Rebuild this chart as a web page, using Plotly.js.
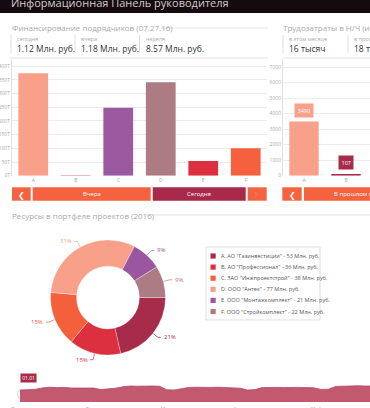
<!DOCTYPE html>
<html><head><meta charset="utf-8">
<script src="https://cdn.plot.ly/plotly-3.0.1.min.js"></script>
<style>html,body{margin:0;padding:0;background:#fff;overflow:hidden}#c{width:370px;height:408px}</style>
</head><body><div id="c"></div><script>
const W=370,H=408;
// ---- data ----
const finCats=['A','B','C','D','E','F'];
const finVals=[374,2,248,341,54,100];
const finColors=['#f8a08a','#c0506e','#9b59a0','#ad7b84','#dc2f3f','#f5603f'];
const finTicks=[0,50,100,150,200,250,300,350,400];
const finTickText=['0T','50T','100T','150T','200T','250T','300T','350T','400T'];
const labCats=['A','B'];
const labVals=[3490,107];
const labColors=['#f8a08a','#a72b4a'];
const labTicks=[0,1000,2000,3000,4000,5000,6000,7000];
const pieLetters=['A','B','C','D','E','F'];
const pieNames=['АО "Газинвестиции"','АО "Профессионал"','ЗАО "Инжпроектстрой"','ООО "Антек"','ООО "Монтажкомплект"','ООО "Стройкомплект"'];
const pieVals=[53,36,38,77,21,22];
const pieColors=['#a72b4a','#dc2f3f','#f4603c','#f8a08a','#9a56a0','#ad7b84'];
const tlDays=[0,3,6,9,12,15,18,21,24,27,30,33,36,39,42,45,48,51,54,57,60,63,66,69,72,75,78,81,84,87,90,93,96,99,102,105,108,111,114,117,120,123,126,129,132,135,138,141,143];
const tlVals=[60,61,63,70,74,72,73,70,71,69,70,62,64,69,76,80,79,81,80,79,61,60,66,73,74,72,73,74,72,68,69,60,62,72,74,73,72,74,73,72,71,63,64,78,80,79,81,80,80];
const monthDays=[0,31,60,91,121];
const monthNames=['Январь','Февраль','Март','Апрель','Май'];
const finKpiLabels=['сегодня','вчера','неделя'];
const finKpiValues=['1.12 Млн. руб.','1.18 Млн. руб.','8.57 Млн. руб.'];
const labKpiLabels=['в этом месяце','в прошлом месяце'];
const labKpiValues=['16 тысяч','18 тысяч'];

// ---- helpers ----
const X=x=>x/W, Y=y=>1-y/H;
const shapes=[], anns=[];
function rect(x0,y0,x1,y1,fill,lc,lw){shapes.push({type:'rect',xref:'paper',yref:'paper',x0:X(x0),x1:X(x1),y0:Y(y1),y1:Y(y0),fillcolor:fill,line:{color:lc||fill,width:lw||0},layer:'below'});}
function line(x0,y0,x1,y1,c,w){shapes.push({type:'line',xref:'paper',yref:'paper',x0:X(x0),x1:X(x1),y0:Y(y0),y1:Y(y1),line:{color:c,width:w||1}});}
function txt(t,x,y,size,color,xa,extra){anns.push(Object.assign({text:t,xref:'paper',yref:'paper',x:X(x),y:Y(y),xanchor:xa||'left',yanchor:'middle',showarrow:false,font:{size:size,color:color}},extra||{}));}

// header
rect(0,0,W,13,'#150a0e');
txt('Информационная Панель руководителя',9,2.5,11,'#cfcfcf');
// section 1
txt('Финансирование подрядчиков (07.27.16)',10,28,8,'#aaaaaa');
line(161,28,268,28,'#e3e3e3');
txt('Трудозатраты в Н/Ч (июль 2016)',281,28,8,'#aaaaaa');
const finKpiX=[11,75,139.5];
finKpiX.forEach((x,i)=>{line(x,35,x,53,'#dddddd');txt(finKpiLabels[i],x+4,39.5,5.5,'#aaaaaa');txt(finKpiValues[i],x+4,48.5,8.5,'#333333');});
const labKpiX=[283,348];
labKpiX.forEach((x,i)=>{line(x,35,x,53,'#dddddd');txt(labKpiLabels[i],x+4,39.5,5.5,'#aaaaaa');txt(labKpiValues[i],x+4,48.5,8.5,'#333333');});
line(10,58,268,58,'#e3e3e3');line(283,58,370,58,'#e3e3e3');
// buttons
rect(12,187.3,30.7,200.7,'#f5623f');txt('❮',21.3,194,8,'#ffffff','center');
rect(32.7,187.3,150.7,200.7,'#f5623f');txt('Вчера',91.7,194,6,'#ffffff','center');
rect(152.7,187.3,245.7,200.7,'#a8294a');txt('Сегодня',199.2,194,6,'#ffffff','center');
rect(247.7,187.3,266.7,200.7,'#f5623f');txt('〉',257.2,194,7,'#f8b09c','center');
rect(282.3,187.3,301.7,200.7,'#f5623f');txt('❮',292,194,8,'#ffffff','center');
rect(304,187.3,420,200.7,'#f5623f');txt('В прошлом месяце',362,194,6,'#ffffff','center');
// section 2
txt('Ресурсы в портфеле проектов (2016)',10,215,8,'#aaaaaa');
line(145,215,370,215,'#e3e3e3');
// legend
rect(206,247,320,320,'#ffffff','#dddddd',1);
pieLetters.forEach((l,i)=>{
  const yy=256+11.1*i;
  rect(210.5,yy-2.6,215.7,yy+2.6,pieColors[i]);
  txt(l+'. '+pieNames[i]+' - '+pieVals[i]+' Млн. руб.',218.5,yy,5.5,'#555555');
});
// pie labels with leaders
const total=pieVals.reduce((a,b)=>a+b,0);
const cx=108,cy=297.5,R=57.5;
let cum=0;
pieVals.forEach((v,i)=>{
  const mid=(cum+v/2)/total*2*Math.PI; cum+=v;
  const c=Math.cos(mid), s=Math.sin(mid);
  const ex=cx+(R+0.5)*c, ey=cy+(R+0.5)*s, bx=cx+64*c, by=cy+64*s;
  const right=c>=0, tx=bx+(right?3:-3);
  shapes.push({type:'path',xref:'paper',yref:'paper',path:`M ${X(ex)},${Y(ey)} L ${X(bx)},${Y(by)} L ${X(tx)},${Y(by)}`,line:{color:pieColors[i],width:0.7}});
  txt(Math.round(v/total*100)+'%',tx+(right?0.5:-0.5),by,6,pieColors[i],right?'left':'right');
});
// timeline
txt('〈',15,393,11,'#9a9a9a','center');
txt('01.01',20,378,5,'#ffffff','left',{bgcolor:'#a72b4a',borderpad:1.2});

const data=[
 {type:'bar',x:finCats,y:finVals,marker:{color:finColors},xaxis:'x',yaxis:'y',hoverinfo:'none'},
 {type:'bar',x:labCats,y:labVals,marker:{color:labColors},xaxis:'x2',yaxis:'y2',hoverinfo:'none'},
 {type:'scatter',mode:'lines',x:tlDays,y:tlVals,fill:'tozeroy',fillcolor:'#c2596f',line:{color:'#b44a64',width:0.8},xaxis:'x3',yaxis:'y3',hoverinfo:'none'},
 {type:'pie',values:pieVals,labels:pieLetters,marker:{colors:pieColors,line:{color:'#ffffff',width:0.3}},hole:0.545,sort:false,direction:'clockwise',rotation:90,textinfo:'none',hoverinfo:'none',showlegend:false,
  domain:{x:[X(50.5),X(165.5)],y:[Y(355),Y(240)]}}
];
labVals.forEach((v,i)=>anns.push({xref:'x2',yref:'y2',x:labCats[i],y:v,yanchor:'bottom',yshift:4,showarrow:false,text:String(v),font:{size:5.5,color:'#ffffff'},bgcolor:labColors[i],borderpad:2.5}));

const tickFont={size:5,color:'#aaaaaa'};
const layout={
 width:W,height:H,margin:{l:0,r:0,t:0,b:0},paper_bgcolor:'#ffffff',plot_bgcolor:'rgba(0,0,0,0)',
 font:{family:'Open Sans, sans-serif'},showlegend:false,bargap:0.3,
 xaxis:{domain:[X(12),X(267)],range:[-0.5,5.5],type:'category',tickfont:tickFont,showgrid:false,showline:false,ticks:'',automargin:false,fixedrange:true},
 yaxis:{domain:[Y(175.7),Y(59)],range:[0,426],tickvals:finTicks,ticktext:finTickText,tickfont:tickFont,showgrid:true,gridcolor:'#ececec',gridwidth:1,zeroline:false,showline:true,linecolor:'#e0e0e0',ticks:'',automargin:false},
 xaxis2:{domain:[X(283),1],range:[-0.5,1.571],type:'category',tickfont:tickFont,showgrid:false,showline:false,ticks:'',anchor:'y2',automargin:false},
 yaxis2:{domain:[Y(175.7),Y(59)],range:[0,7530],tickvals:labTicks,tickfont:tickFont,showgrid:true,gridcolor:'#ececec',zeroline:false,showline:true,linecolor:'#e0e0e0',ticks:'',anchor:'x2',automargin:false},
 xaxis3:{domain:[X(20),1],range:[0,143],tickvals:monthDays,ticktext:monthNames,tickfont:tickFont,ticklabelstandoff:3,showgrid:true,gridcolor:'rgba(255,255,255,0.45)',layer:'above traces',zeroline:false,showline:false,ticks:'',anchor:'y3',automargin:false},
 yaxis3:{domain:[Y(402),Y(382)],range:[0,100],showticklabels:false,showgrid:false,zeroline:false,anchor:'x3',automargin:false},
 shapes:shapes,annotations:anns
};
Plotly.newPlot('c',data,layout,{staticPlot:true,displayModeBar:false});
</script></body></html>
